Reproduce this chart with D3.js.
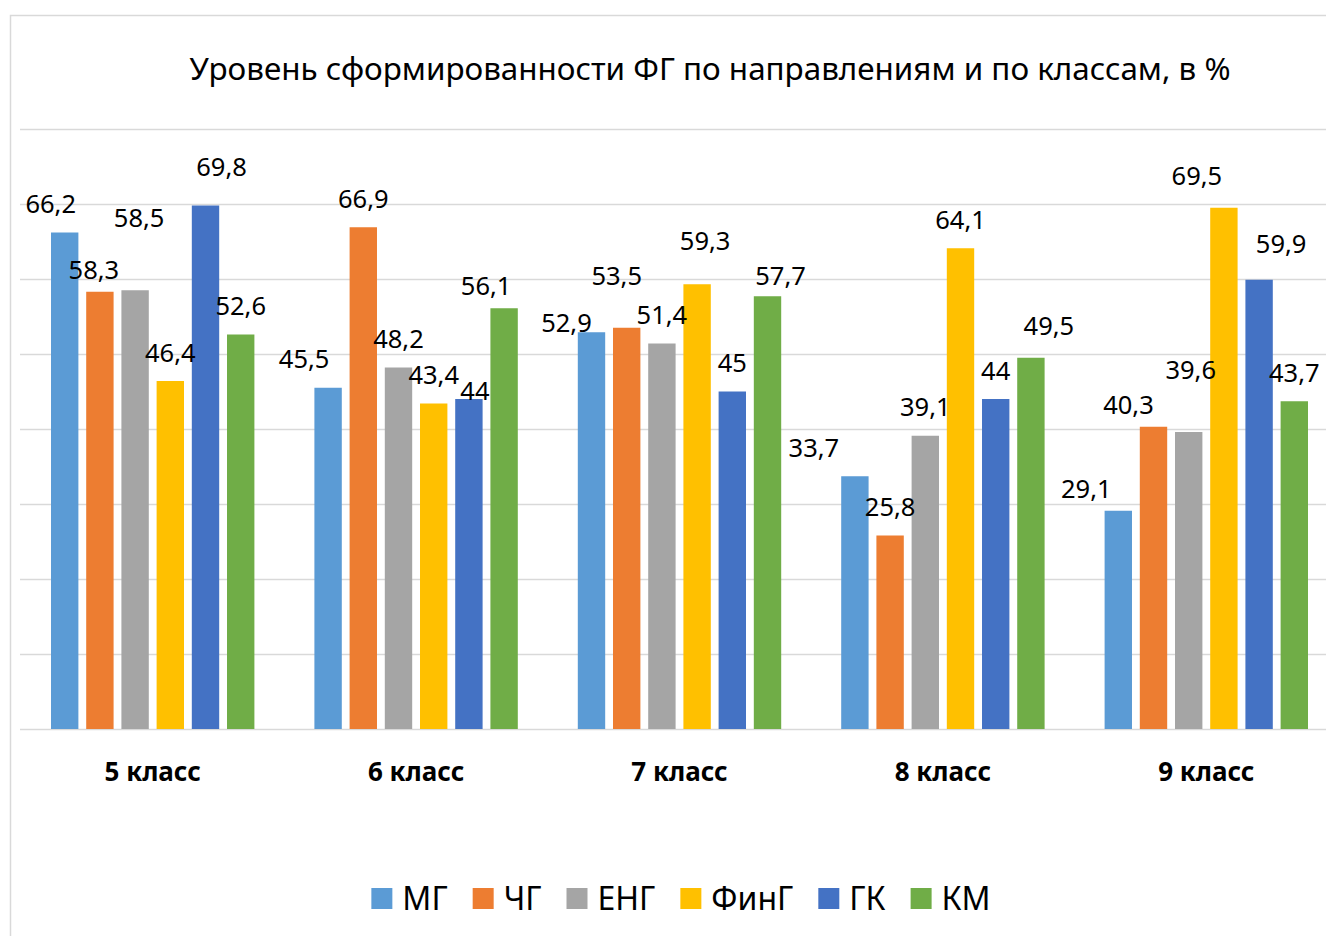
<!DOCTYPE html>
<html>
<head>
<meta charset="utf-8">
<script src="https://cdn.jsdelivr.net/npm/d3@7"></script>
<style>
    body { margin: 0; background: #fff; }
    #chart { width: 1326px; height: 936px; }
</style>
</head>
<body>
<div id="chart"></div>
<script>
const title = 'Уровень сформированности ФГ по направлениям и по классам, в %';
const categories = ['5 класс', '6 класс', '7 класс', '8 класс', '9 класс'];
const seriesNames = ['МГ', 'ЧГ', 'ЕНГ', 'ФинГ', 'ГК', 'КМ'];
const mgValues = [66.2, 45.5, 52.9, 33.7, 29.1];
const chgValues = [58.3, 66.9, 53.5, 25.8, 40.3];
const engValues = [58.5, 48.2, 51.4, 39.1, 39.6];
const fingValues = [46.4, 43.4, 59.3, 64.1, 69.5];
const gkValues = [69.8, 44, 45, 44, 59.9];
const kmValues = [52.6, 56.1, 57.7, 49.5, 43.7];
const yTicks = [0, 10, 20, 30, 40, 50, 60, 70, 80];

// labels were dragged by hand in the original: [dx, extra lift] per class
const labelNudge = {
    'МГ': [[-14, 0], [-24, 0], [-25, -19], [-41, 0], [-32, -7]],
    'ЧГ': [[-6, -7], [0, 0], [-10, 23], [0, 0], [-25, -7]],
    'ЕНГ': [[4, 44], [0, 0], [0, 0], [0, 0], [2, 34]],
    'ФинГ': [[0, 0], [0, 0], [8, 15], [0, 0], [-27, 3]],
    'ГК': [[16, 10], [6, -20], [0, 0], [0, 0], [22, 7]],
    'КМ': [[0, 0], [-18, -6], [13, -8], [18, 3], [0, 0]]
};

const colors = ['#5b9bd5', '#ed7d31', '#a5a5a5', '#ffc000', '#4472c4', '#70ad47'];

class GroupedBars {
    constructor(div_id) {
        this.div_id = div_id;
        this.width = 1326;
        this.height = 936;
        this.plot = { left: 21, right: 1338, top: 129, bottom: 729 };
        this.font = "'Noto Sans', 'Open Sans', sans-serif";
        this.series = [mgValues, chgValues, engValues, fingValues, gkValues, kmValues];
        this.svg = undefined;
    }

    setting() {
        this.svg = d3.select(`#${this.div_id}`)
            .append('svg')
            .attr('width', this.width)
            .attr('height', this.height)
            .style('display', 'block')
            .style('font-family', this.font);

        this.x = d3.scaleBand()
            .domain(categories)
            .range([this.plot.left, this.plot.right])
            .padding(0);
        this.xInner = d3.scaleBand()
            .domain(seriesNames)
            .range([30, this.x.bandwidth() - 30])
            .paddingInner(0.222);
        this.y = d3.scaleLinear()
            .domain([0, 80])
            .range([this.plot.bottom, this.plot.top]);
    }

    renderFrame() {
        this.svg.append('rect')
            .attr('x', 10.5)
            .attr('y', 15.5)
            .attr('width', this.width + 40)
            .attr('height', this.height + 40)
            .attr('fill', 'none')
            .attr('stroke', '#d9d9d9')
            .attr('stroke-width', 1.5);

        this.svg.append('text')
            .attr('x', 710)
            .attr('y', 80)
            .attr('text-anchor', 'middle')
            .attr('font-size', 31.4)
            .attr('fill', '#000')
            .text(title);
    }

    renderGrid() {
        let grid = this.svg.append('g')
            .attr('transform', `translate(20,0)`)
            .call(d3.axisLeft(this.y)
                .tickValues(yTicks)
                .tickSize(-(this.width))
                .tickFormat(''));
        grid.select('.domain').remove();
        grid.selectAll('.tick line')
            .attr('stroke', '#d9d9d9')
            .attr('stroke-width', 1.6);
    }

    renderBars() {
        let rows = [];
        this.series.forEach((vals, s) => {
            vals.forEach((v, c) => {
                rows.push({ s: seriesNames[s], c: categories[c], ci: c, v: v, color: colors[s] });
            });
        });
        this.rows = rows;

        this.svg.append('g')
            .selectAll('rect')
            .data(rows)
            .join('rect')
            .attr('x', d => this.x(d.c) + this.xInner(d.s))
            .attr('width', this.xInner.bandwidth())
            .attr('y', d => this.y(d.v))
            .attr('height', d => this.y(0) - this.y(d.v))
            .attr('fill', d => d.color);
    }

    renderLabels() {
        this.svg.append('g')
            .selectAll('text')
            .data(this.rows)
            .join('text')
            .attr('x', d => this.x(d.c) + this.xInner(d.s) + this.xInner.bandwidth() / 2 + labelNudge[d.s][d.ci][0])
            .attr('y', d => this.y(d.v) - 19.5 - labelNudge[d.s][d.ci][1])
            .attr('text-anchor', 'middle')
            .attr('font-size', 25.5)
            .attr('fill', '#000')
            .text(d => String(d.v).replace('.', ','));

        this.svg.append('g')
            .selectAll('text')
            .data(categories)
            .join('text')
            .attr('x', d => this.x(d) + this.x.bandwidth() / 2)
            .attr('y', 781)
            .attr('text-anchor', 'middle')
            .attr('font-size', 26)
            .attr('font-weight', 'bold')
            .attr('fill', '#000')
            .text(d => d);
    }

    renderLegend() {
        let legend = this.svg.append('g');
        let items = legend.selectAll('g')
            .data(seriesNames)
            .join('g');
        items.append('rect')
            .attr('width', 21)
            .attr('height', 21)
            .attr('y', 888)
            .attr('fill', (d, i) => colors[i]);
        items.append('text')
            .attr('x', 31)
            .attr('y', 910)
            .attr('font-size', 32)
            .attr('fill', '#000')
            .text(d => d);

        let offsets = [];
        let cur = 0;
        items.each(function () {
            let w = d3.select(this).select('text').node().getComputedTextLength();
            offsets.push(cur);
            cur += 31 + w + 25;
        });
        let total = cur - 25;
        let start = 681 - total / 2;
        items.attr('transform', (d, i) => `translate(${start + offsets[i]},0)`);
    }

    render() {
        this.setting();
        this.renderFrame();
        this.renderGrid();
        this.renderBars();
        this.renderLabels();
        this.renderLegend();
    }
}

new GroupedBars('chart').render();
</script>
</body>
</html>
